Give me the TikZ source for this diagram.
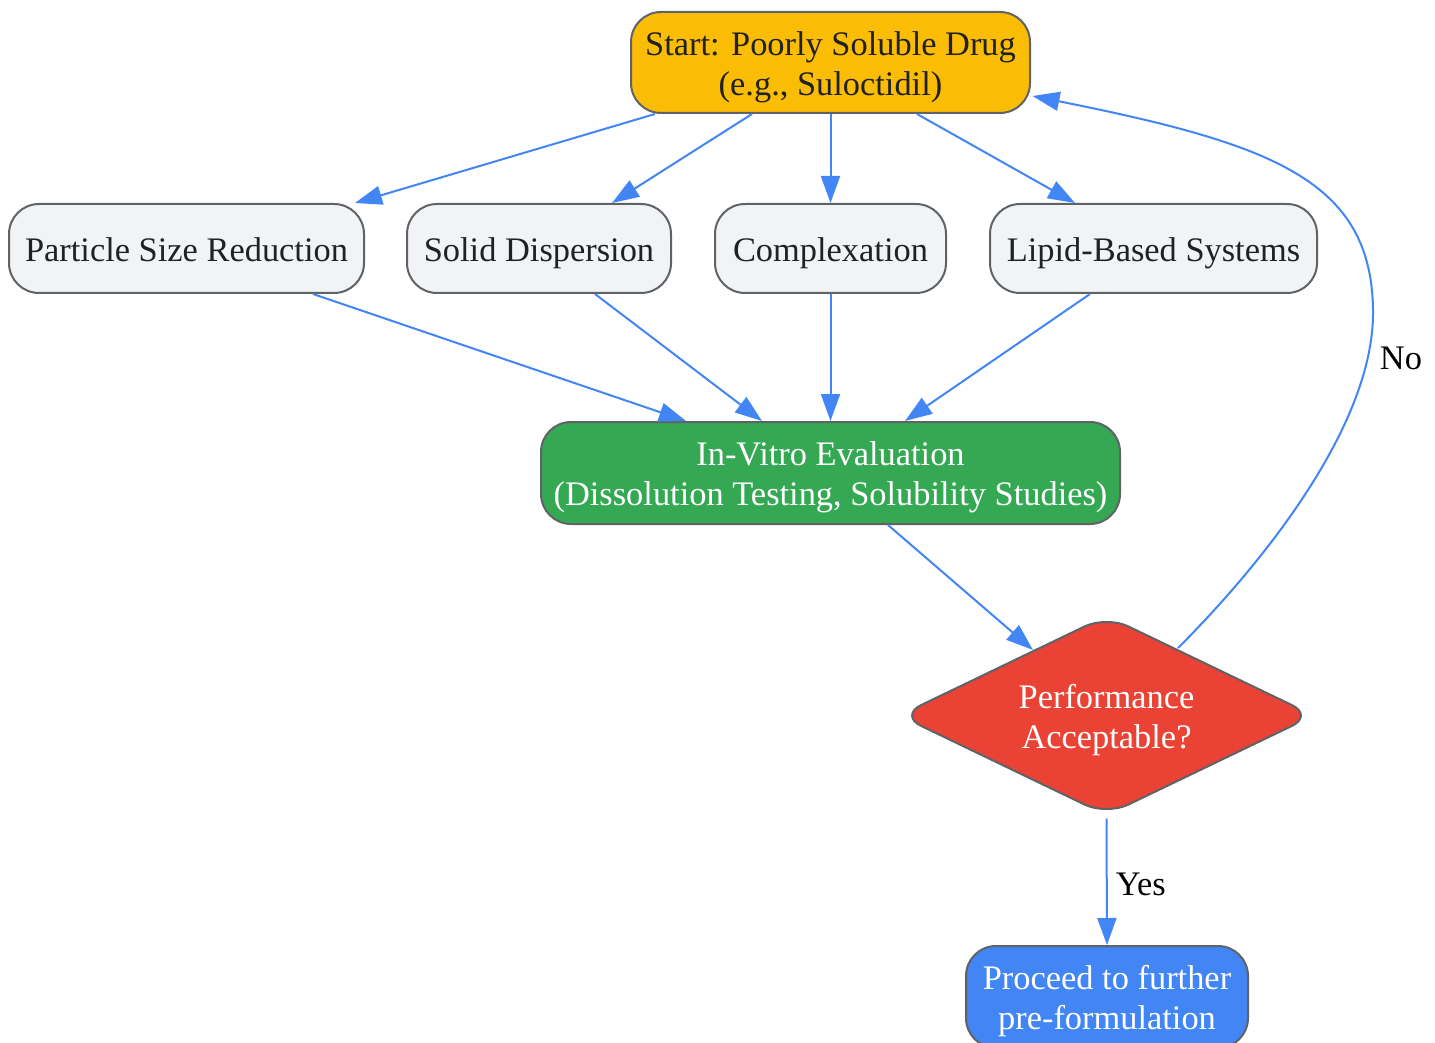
\documentclass[tikz,border=0pt]{standalone}
\usepackage{fontspec}
\setmainfont{Liberation Serif}
\usetikzlibrary{shapes.geometric,arrows.meta,calc}
\definecolor{cyel}{HTML}{FBBC04}
\definecolor{cgray}{HTML}{F1F3F4}
\definecolor{cgreen}{HTML}{34A853}
\definecolor{cred}{HTML}{EA4335}
\definecolor{cblue}{HTML}{4285F4}
\definecolor{cborder}{HTML}{5F6368}
\definecolor{ctext}{HTML}{202124}
\begin{document}
\begin{tikzpicture}[x=0.5pt,y=-0.5pt,
  font=\fontsize{17.2}{20}\selectfont,
  box/.style={draw=cborder,line width=1pt,rounded corners=15pt,align=center,inner sep=0pt},
  two/.style={text height=36.7pt,text depth=4pt},
  grey/.style={box,fill=cgray,text=ctext,minimum height=44.5pt,text height=16.8pt,text depth=4pt},
  dec/.style={draw=cborder,line width=1pt,shape=diamond,rounded corners=12pt,fill=cred,text=white,align=center,inner sep=0pt,minimum width=207.5pt,minimum height=100pt,aspect=2.1,two},
  edge/.style={draw=cblue,line width=1pt,-{Triangle[length=13.5pt,width=9.5pt]}},
  lbl/.style={text=black,inner sep=0pt}]
\useasboundingbox (0,0) rectangle (1435,1043);
\node[box,two,fill=cyel,text=ctext,minimum width=199.5pt,minimum height=50.5pt] (start) at (830.5,62.5) {Start: Poorly Soluble Drug\\(e.g., Suloctidil)};
\node[grey,minimum width=177.5pt] (psr) at (186.5,248.5) {Particle Size Reduction};
\node[grey,minimum width=132pt] (sd) at (539,248.5) {Solid Dispersion};
\node[grey,minimum width=115.5pt] (cx) at (830.5,248.5) {Complexation};
\node[grey,minimum width=163.5pt] (lip) at (1153.5,248.5) {Lipid-Based Systems};
\node[box,two,fill=cgreen,text=white,minimum width=289.5pt,minimum height=51pt] (ev) at (830.5,473) {In-Vitro Evaluation\\(Dissolution Testing, Solubility Studies)};
\node[dec] (dia) at (1106.5,715.5) {Performance\\Acceptable?};
\node[box,two,fill=cblue,text=white,minimum width=141pt,minimum height=51pt] (proc) at (1107,997) {Proceed to further\\pre-formulation};
\draw[edge] ($(start.south)+(-175.5,0)$) -- ($(psr.north)+(168.5,0)$);
\draw[edge] ($(start.south)+(-78.5,0)$) -- ($(sd.north)+(73,0)$);
\draw[edge] (start.south) -- (cx.north);
\draw[edge] ($(start.south)+(86.5,0)$) -- ($(lip.north)+(-78.5,0)$);
\draw[edge] ($(psr.south)+(126.5,0)$) -- ($(ev.north)+(-144.5,0)$);
\draw[edge] ($(sd.south)+(56,0)$) -- ($(ev.north)+(-68.5,0)$);
\draw[edge] (cx.south) -- (ev.north);
\draw[edge] ($(lip.south)+(-63.5,0)$) -- ($(ev.north)+(74.5,0)$);
\draw[edge] ($(ev.south)+(57.5,0)$) -- ($(dia.center)+(-73.5,-65.5)$);
\coordinate (dbot) at ($(dia.south)+(0,2)$);
\draw[edge] (dbot) -- node[lbl,right=4pt,pos=0.52] (yes) {Yes} (proc.north);
\coordinate (noA) at ($(dia.center)+(71.5,-67.5)$);
\coordinate (noB) at ($(start.east)+(1.5,33.5)$);
\draw[edge] (noA) .. controls (1268,558) and (1373,423) .. (1373,313) .. controls (1373,180) and (1272,144) .. (noB);
\node[lbl] (no) at (1401,358) {No};
\end{tikzpicture}
\end{document}
